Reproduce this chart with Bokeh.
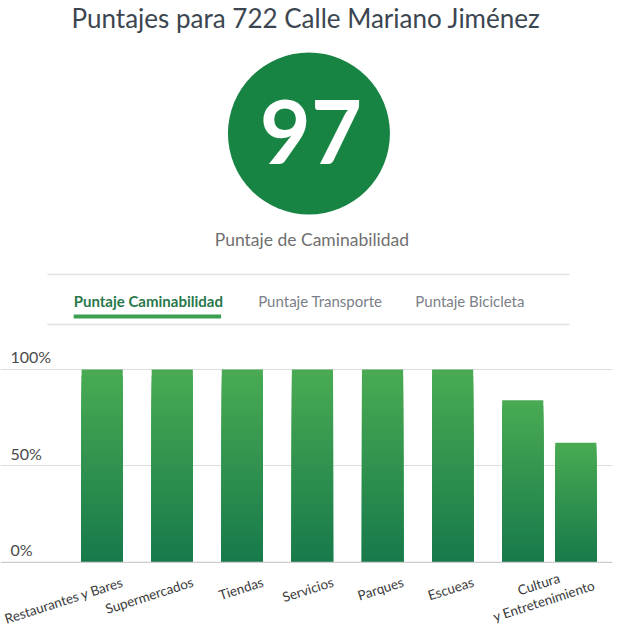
import numpy as np
from bokeh.plotting import figure
from bokeh.layouts import column
from bokeh.models import Range1d, FactorRange, FixedTicker, Label, ColumnDataSource, Span
from bokeh.transform import dodge
from bokeh.core.properties import value
from bokeh.embed import file_html
from bokeh.resources import INLINE

# ---------------- data ----------------
title_text = "Puntajes para 722 Calle Mariano Jiménez"
score = 97
score_label = "Puntaje de Caminabilidad"
tabs = ["Puntaje Caminabilidad", "Puntaje Transporte", "Puntaje Bicicleta"]
active_tab = 0

groups = ["Restaurantes y Bares", "Supermercados", "Tiendas", "Servicios",
          "Parques", "Escueas", "Cultura y Entretenimiento"]
group_labels = ["Restaurantes y Bares", "Supermercados", "Tiendas", "Servicios",
                "Parques", "Escueas", "Cultura\ny Entretenimiento"]
bar_groups = ["Restaurantes y Bares", "Supermercados", "Tiendas", "Servicios",
              "Parques", "Escueas", "Cultura y Entretenimiento", "Cultura y Entretenimiento"]
bar_subs = ["1", "1", "1", "1", "1", "1", "1", "2"]
bar_values = [100, 100, 100, 100, 100, 100, 84, 62]
y_ticks = [0, 50, 100]
y_tick_labels = ["0%", "50%", "100%"]

# ---------------- style ----------------
FONT = "Lato"
W = 627
HEAD_H = 335
CHART_H = 298
GREEN = "#188444"

# ---------------- header ----------------
head = figure(width=W, height=HEAD_H, x_range=Range1d(0, W), y_range=Range1d(HEAD_H, 0),
              x_axis_location=None, y_axis_location=None, min_border=0,
              outline_line_color=None, output_backend="svg", toolbar_location=None,
              background_fill_color="white", border_fill_color="white")
head.xgrid.visible = False
head.ygrid.visible = False

head.text(x=[313], y=[17], text=[title_text], text_font=value(FONT), text_font_size="26px",
          text_color="#3c4650", text_align="center", text_baseline="middle")
head.scatter(x=[316], y=[133], size=162, fill_color=GREEN, line_color=None)
head.text(x=[318], y=[131], text=[str(score)], text_font=value(FONT), text_font_size="88px",
          text_font_style="bold", text_color="white", text_align="center",
          text_baseline="alphabetic")
head.text(x=[319], y=[239], text=[score_label], text_font=value(FONT), text_font_size="17.5px",
          text_color="#707070", text_align="center", text_baseline="alphabetic")
head.segment(x0=[48, 48], y0=[274, 324], x1=[583, 583], y1=[274, 324],
             line_color="#e3e3e3", line_width=1.5)

tab_x = [75, 264, 425]
for i, t in enumerate(tabs):
    act = i == active_tab
    head.text(x=[tab_x[i]], y=[300], text=[t], text_font=value(FONT), text_font_size="15px",
              text_font_style="bold" if act else "normal",
              text_color="#28784a" if act else "#7b8087",
              text_align="left", text_baseline="alphabetic")
head.segment(x0=[75], y0=[316], x1=[226], y1=[316],
             line_color="#3b9f50", line_width=4, line_cap="butt")

# ---------------- chart ----------------
x_range = FactorRange(factors=list(zip(bar_groups, bar_subs)), group_padding=0.32,
                      factor_padding=0, range_padding=0.8025, range_padding_units="absolute")
p = figure(width=W, height=CHART_H, x_range=x_range, y_range=Range1d(-36.8, 112.4),
           x_axis_location=None, y_axis_location=None,
           min_border_left=0, min_border_right=15, min_border_top=10, min_border_bottom=0,
           outline_line_color=None, output_backend="svg", toolbar_location=None,
           background_fill_color="white", border_fill_color="white")
p.xgrid.visible = False
p.ygrid.ticker = FixedTicker(ticks=y_ticks)
p.ygrid.grid_line_color = "#dddddd"
p.ygrid.grid_line_width = 1
p.add_layout(Span(location=y_ticks[0], dimension="width", line_color="#cccccc", line_width=1.2))

SHIFT = 0.612
BAR_W = 0.775
N = 30
top_rgb = np.array([74, 171, 83])
bot_rgb = np.array([23, 121, 75])
xs, tops, cols = [], [], []
for k in range(N):
    f_hi = (N - k) / N
    f_mid = (N - k - 0.5) / N
    c = bot_rgb + (top_rgb - bot_rgb) * f_mid
    col = "#%02x%02x%02x" % tuple(int(round(v)) for v in c)
    for g, s, v in zip(bar_groups, bar_subs, bar_values):
        xs.append((g, s))
        tops.append(v * f_hi)
        cols.append(col)
src = ColumnDataSource(dict(x=xs, top=tops, color=cols))
p.vbar(x=dodge("x", SHIFT, range=x_range), top="top", bottom=0, width=BAR_W,
       fill_color="color", line_color=None, source=src)

# category labels
single = [i for i, g in enumerate(groups) if bar_groups.count(g) == 1]
multi = [i for i, g in enumerate(groups) if bar_groups.count(g) > 1]
s1 = ColumnDataSource(dict(g=[groups[i] for i in single], t=[group_labels[i] for i in single]))
s2 = ColumnDataSource(dict(g=[groups[i] for i in multi], t=[group_labels[i] for i in multi]))
p.text(x=dodge("g", SHIFT + BAR_W / 2, range=x_range), y=0, text="t", source=s1,
       angle=0.31, y_offset=19, text_align="right", text_baseline="middle",
       text_font=value(FONT), text_font_size="13.5px", text_color="#3a3a3a")
p.text(x=dodge("g", SHIFT, range=x_range), y=0, text="t", source=s2,
       angle=0.31, x_offset=-8, y_offset=30, text_align="center", text_baseline="middle",
       text_font=value(FONT), text_font_size="13.5px", text_color="#3a3a3a", text_line_height=1.1)

for t, lab in zip(y_ticks, y_tick_labels):
    p.add_layout(Label(x=10, x_units="screen", y=t, text=lab, text_baseline="bottom",
                       y_offset=3, text_font=FONT, text_font_size="16px", text_color="#4a4a4a"))

layout = column(head, p, spacing=0)
open("out.html", "w").write(file_html(layout, INLINE))
